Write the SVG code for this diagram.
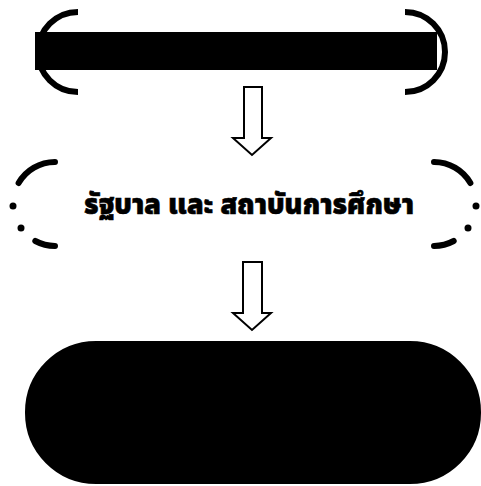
<svg xmlns="http://www.w3.org/2000/svg" width="481" height="486" viewBox="0 0 481 486">
<style>
.br{fill:none;stroke:#000;stroke-width:6;stroke-linecap:butt}
.dash{fill:none;stroke:#000;stroke-width:6;stroke-linecap:round}
.dot{fill:#000}
.arr{fill:#fff;stroke:#000;stroke-width:2;stroke-linejoin:miter}
.lbl{font-family:"Noto Sans Thai","Noto Sans","DejaVu Sans",sans-serif;font-weight:900;font-size:29px;fill:#000;stroke:#000;stroke-width:0.6}
</style>
<rect width="481" height="486" fill="#fff"/>
<g id="node-top">
<rect x="35" y="32" width="402" height="38" fill="#000"/>
<path class="br" d="M78,12 A40,40 0 0 0 78,92"/>
<path class="br" d="M405,12 A40,40 0 0 1 405,92"/>
</g>
<g id="node-middle">
<path class="dash" d="M55,162 A42,42 0 0 0 18.6,183"/>
<circle class="dot" cx="13" cy="206" r="3.5"/>
<circle class="dot" cx="21" cy="228" r="3.5"/>
<path class="dash" d="M35.3,241 A42,42 0 0 0 55,246"/>
<path class="dash" d="M434,162 A42,42 0 0 1 470.4,183"/>
<circle class="dot" cx="476" cy="206" r="3.5"/>
<circle class="dot" cx="468" cy="228" r="3.5"/>
<path class="dash" d="M453.7,241 A42,42 0 0 1 434,246"/>
<text class="lbl" x="249" y="214" text-anchor="middle" textLength="330" lengthAdjust="spacingAndGlyphs">รัฐบาล และ สถาบันการศึกษา</text>
</g>
<g id="node-bottom">
<rect x="27" y="343" width="452" height="139" rx="69" ry="69" fill="#000" stroke="#000" stroke-width="4"/>
</g>
<g id="connectors">
<polygon class="arr" points="244,87 262,87 262,138 271,138 252,155 233,138 244,138"/>
<polygon class="arr" points="243,262 262,262 262,313 271,313 252,330 233,313 243,313"/>
</g>
</svg>
